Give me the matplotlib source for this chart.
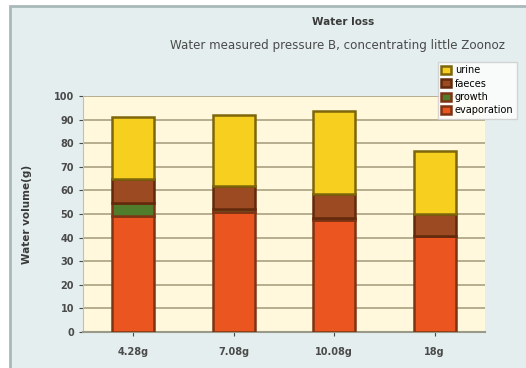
import matplotlib.pyplot as plt
import matplotlib.patches as patches
import numpy as np

# data
groups = ["4.28g", "7.08g", "10.08g", "18g"]
evaporation = [49, 51, 47.5, 40.5]
growth = [5.5, 1, 1, 0]
faeces = [10.5, 10, 10, 9.5]
urine = [26, 30, 35, 26.5]

layers = ["evaporation", "growth", "faeces", "urine"]
colors = ["#ea5520", "#4f7d2c", "#9c4a22", "#f7cf1e"]
edges = ["#7e3414", "#7e3414", "#62290c", "#7d660c"]

fig = plt.figure(figsize=(5.26, 3.68), dpi=100)
fig.patch.set_facecolor("white")

# outer frame of the chart, kept behind the axes
frame = patches.Rectangle((10 / 526, -0.1), 1.2, 1 - 6 / 368 + 0.1,
                          transform=fig.transFigure, facecolor="#e4eeee",
                          edgecolor="#a9b9b9", lw=2, zorder=-10)
fig.patches.append(frame)

ax = fig.add_axes([83 / 526, 36 / 368, 402 / 526, 236 / 368])
ax.set_zorder(1)
ax.set_facecolor("#fff8dc")

x = np.arange(len(groups))
bottom = np.zeros(len(groups))
values = [evaporation, growth, faeces, urine]
handles = []
for name, vals, c, ec in zip(layers, values, colors, edges):
    b = ax.bar(x, vals, 0.42, bottom=bottom, color=c, edgecolor=ec,
               linewidth=1.8, label=name, zorder=3)
    handles.append(b)
    bottom += np.array(vals)

ax.set_xlim(-0.5, len(groups) - 0.5)
ax.set_ylim(0, 100)
ax.set_yticks(range(0, 101, 10))
ax.set_xticks(x)
ax.set_xticklabels(groups, fontweight="semibold")
for t in ax.get_yticklabels():
    t.set_fontweight("semibold")
ax.tick_params(labelsize=7, colors="#4a4a4a", length=3, width=0.8)
ax.tick_params(axis="x", pad=8)
ax.yaxis.grid(True, color="#b0a888", lw=1.3, zorder=0)
for s in ["top", "right"]:
    ax.spines[s].set_visible(False)
ax.spines["left"].set_color("#c8c0a0")
ax.spines["bottom"].set_color("#9a9a8a")
ax.spines["bottom"].set_linewidth(1.5)
ax.set_ylabel("Water volume(g)", fontsize=7.5, color="#3a3a3a",
              fontweight="bold", labelpad=16)

fig.text(343 / 526, 1 - 22 / 368, "Water loss", fontsize=7.5,
         color="#3a3a3a", fontweight="bold", ha="center", va="center")
fig.text(170 / 526, 1 - 45 / 368,
         "Water measured pressure B, concentrating little Zoonoz",
         fontsize=8.6, color="#4a4a4a", ha="left", va="center")

leg = fig.legend(handles[::-1], layers[::-1], loc="upper left",
                 bbox_to_anchor=(433 / 526, 1 - 57 / 368), fontsize=7,
                 frameon=True, fancybox=False, edgecolor="#cccccc",
                 handlelength=1.0, handleheight=0.9, borderpad=0.35,
                 labelspacing=0.35, handletextpad=0.4)
leg.set_zorder(5)
leg.get_frame().set_facecolor("white")

fig.savefig("out.png", dpi=100)
